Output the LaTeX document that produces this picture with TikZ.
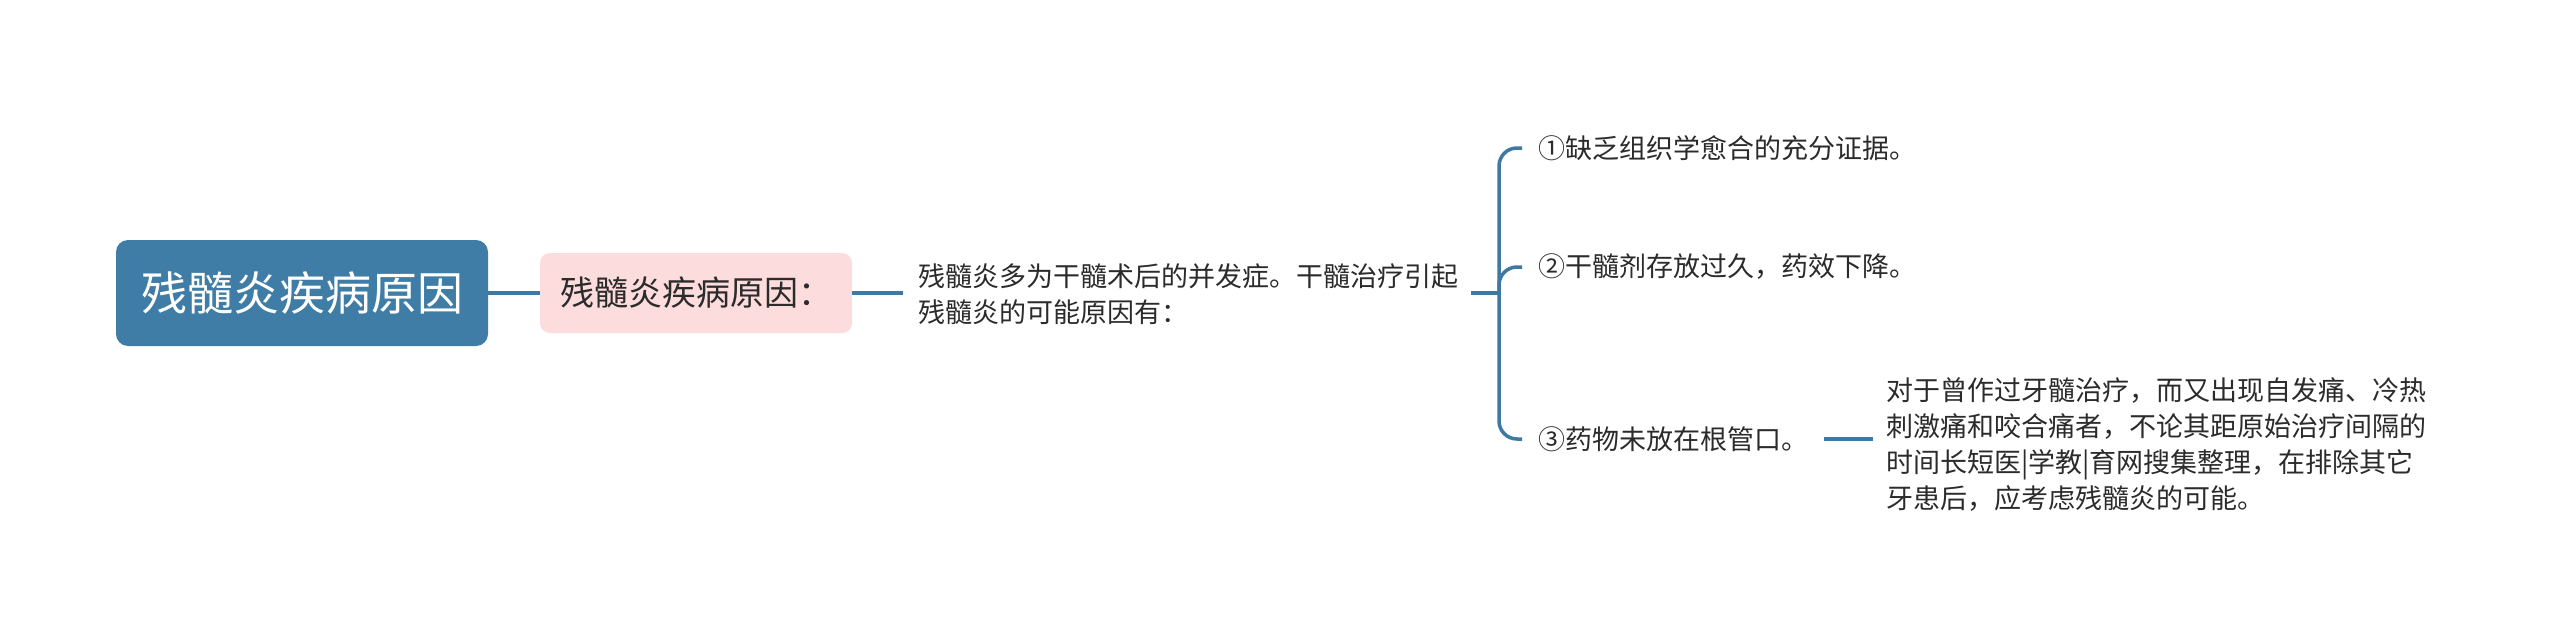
\documentclass[tikz,border=0pt]{standalone}
\usepackage{fontspec}
\usetikzlibrary{calc}
\setmainfont{Noto Sans CJK SC}
\definecolor{rootblue}{HTML}{3F7DA6}
\definecolor{lineblue}{HTML}{3D79A2}
\definecolor{subpink}{HTML}{FCDCDC}
\definecolor{textgray}{HTML}{2B2B2B}
\begin{document}
\begin{tikzpicture}[x=1pt,y=-1pt,
  conn/.style={draw=lineblue, line width=3.5pt},
  branch/.style={conn, rounded corners=18pt},
  rootbox/.style={fill=rootblue, rounded corners=12pt, minimum width=372pt, minimum height=106pt, inner sep=0pt, text=white, font=\fontsize{46}{46}\selectfont},
  subbox/.style={fill=subpink, rounded corners=10pt, minimum width=312pt, minimum height=80pt, inner sep=0pt, text=textgray, font=\fontsize{34}{34}\selectfont},
  leaf/.style={anchor=west, inner sep=0pt, text=textgray, font=\fontsize{27}{36}\selectfont, align=left}]
\useasboundingbox (0,0) rectangle (2560,640);
\fill[white] (0,0) rectangle (2560,640);

\node[rootbox] (root) at (302,293) {残髓炎疾病原因};
\node[subbox] (sub) at (696,293) {残髓炎疾病原因：};
\node[leaf] (t1) at (918,294) {残髓炎多为干髓术后的并发症。干髓治疗引起\\残髓炎的可能原因有：};
\node[leaf] (c1) at (1538,148) {①缺乏组织学愈合的充分证据。};
\node[leaf] (c2) at (1538,267) {②干髓剂存放过久，药效下降。};
\node[leaf] (c3) at (1538,439) {③药物未放在根管口。};
\node[leaf] (long) at (1886,445) {对于曾作过牙髓治疗，而又出现自发痛、冷热\\刺激痛和咬合痛者，不论其距原始治疗间隔的\\时间长短医|学教|育网搜集整理，在排除其它\\牙患后，应考虑残髓炎的可能。};

\coordinate (b) at (1499,293);

\draw[conn] (root.east) -- (sub.west);
\draw[conn] (sub.east) -- ($(sub.east -| t1.west)+(-15,0)$);
\draw[conn] ($(b -| t1.east)+(13,0)$) -- (b);
\draw[branch] (b) |- ([xshift=-16pt]c1.west);
\draw[branch] (b) |- ([xshift=-16pt]c2.west);
\draw[branch] (b) |- ([xshift=-16pt]c3.west);
\draw[conn] ([xshift=16pt]c3.east) -- ($(c3.east -| long.west)+(-13,0)$);
\end{tikzpicture}
\end{document}
